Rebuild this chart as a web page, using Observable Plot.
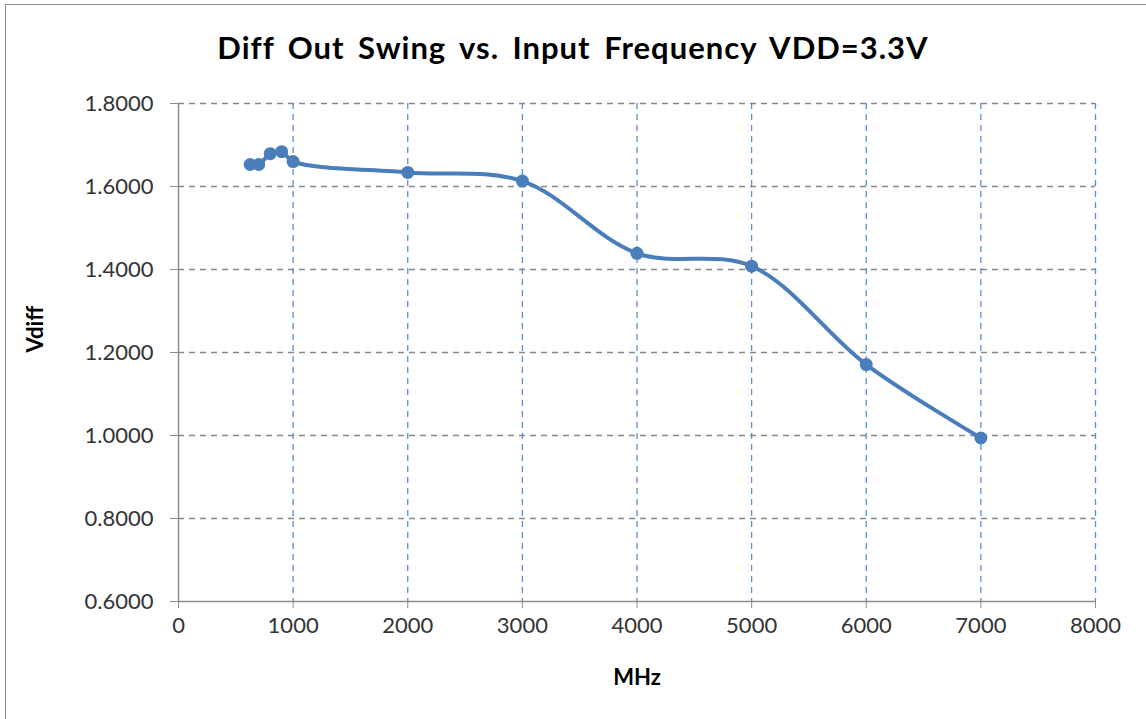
<!DOCTYPE html>
<html><head><meta charset="utf-8">
<script src="https://cdn.jsdelivr.net/npm/d3@7"></script>
<script src="https://cdn.jsdelivr.net/npm/@observablehq/plot@0.6"></script>
<style>
html,body{margin:0;padding:0;background:#fff;}
#wrap{position:relative;width:1146px;height:719px;overflow:hidden;font-family:Lato,"Open Sans",sans-serif;}
#frame{position:absolute;left:5px;top:4px;width:1160px;height:740px;border-top:1.5px solid #8c8c8c;border-left:1.5px solid #8c8c8c;}
#title{position:absolute;left:0;width:1146px;top:27px;text-align:center;font-size:31px;font-weight:bold;color:#000;line-height:40px;letter-spacing:1px;word-spacing:5px;}
#plot{position:absolute;left:0;top:80px;}
</style></head>
<body><div id="wrap"><div id="frame"></div><div id="title">Diff Out Swing vs. Input Frequency VDD=3.3V</div><div id="plot"></div></div>
<script>
const freqMHz = [625, 700, 800, 900, 1000, 2000, 3000, 4000, 5000, 6000, 7000];
const vdiff   = [1.653, 1.653, 1.679, 1.684, 1.660, 1.634, 1.613, 1.439, 1.408, 1.171, 0.994];
const xTicks = [0,1000,2000,3000,4000,5000,6000,7000,8000];
const yTicks = [0.6,0.8,1.0,1.2,1.4,1.6,1.8];
const xLabel = "MHz";
const yLabel = "Vdiff";

const data = freqMHz.map((f,i)=>({f, v: vdiff[i]}));
const blue = "#4a7ebb";

const chart = Plot.plot({
  width: 1146, height: 639,
  marginLeft: 178, marginRight: 51, marginTop: 23, marginBottom: 118,
  style: {fontFamily: "Lato, 'Open Sans', sans-serif", fontSize: "22px", color: "#404040", background: "transparent", overflow: "visible"},
  x: {domain: [0, 8000], ticks: xTicks, tickFormat: d => String(d), label: null},
  y: {domain: [0.6, 1.8], ticks: yTicks, tickFormat: d => d.toFixed(4), label: null},
  marks: [
    Plot.ruleY(yTicks.slice(1), {stroke: "#888", strokeWidth: 1.3, strokeDasharray: "6,5"}),
    Plot.ruleX(xTicks.slice(1), {stroke: "#5b8fd0", strokeWidth: 1.3, strokeDasharray: "6,5"}),
    Plot.ruleY([0.6], {stroke: "#8c8c8c", strokeWidth: 1.5}),
    Plot.ruleX([0], {stroke: "#8c8c8c", strokeWidth: 1.5}),
    Plot.axisX({ticks: xTicks, tickFormat: d => String(d), tickSize: 7, tickPadding: 9, stroke: "#8c8c8c", fill: "#333", fontSize: 22, label: null}),
    Plot.axisY({ticks: yTicks, tickFormat: d => d.toFixed(4), tickSize: 8, tickPadding: 17, stroke: "#8c8c8c", fill: "#333", fontSize: 22, label: null}),
    Plot.text([xLabel], {frameAnchor: "bottom", dy: 83, text: d => d, fontWeight: "bold", fontSize: 22, fill: "#000"}),
    Plot.text([yLabel], {frameAnchor: "left", dx: -143, rotate: -90, text: d => d, fontWeight: "bold", fontSize: 22, fill: "#000"}),
    Plot.line(data, {x: "f", y: "v", stroke: blue, strokeWidth: 4, curve: "catmull-rom"}),
    Plot.dot(data, {x: "f", y: "v", r: 6.5, fill: blue, stroke: "none"})
  ]
});
document.getElementById("plot").appendChild(chart);
</script></body></html>
